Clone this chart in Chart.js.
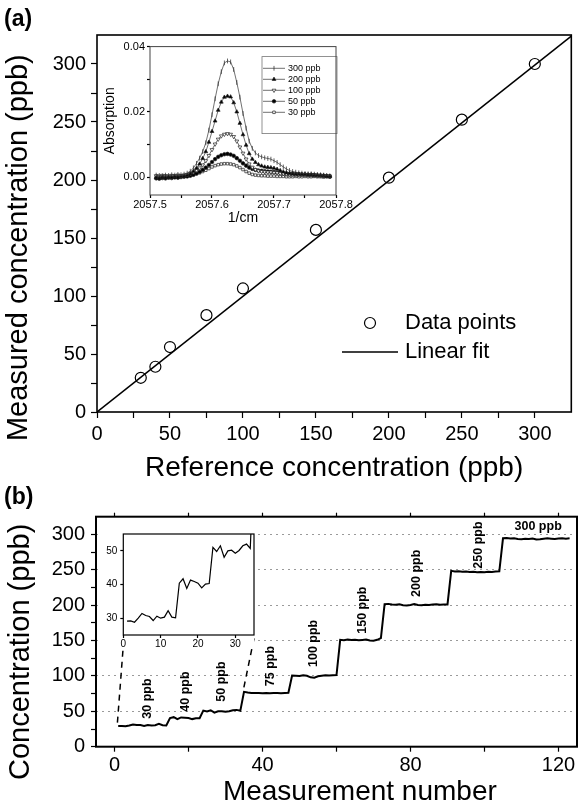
<!DOCTYPE html>
<html>
<head>
<meta charset="utf-8">
<script src="https://cdn.jsdelivr.net/npm/chart.js@4.4.1/dist/chart.umd.min.js"></script>
<style>
  html, body { margin: 0; padding: 0; background: #fff; }
  body { position: relative; width: 578px; height: 806px; overflow: hidden; }
  canvas { position: absolute; }
</style>
</head>
<body>
<canvas id="chartA" width="578" height="482" style="left:0;top:0"></canvas>
<canvas id="insetA" width="260" height="190" style="left:100px;top:38px"></canvas>
<canvas id="chartB" width="578" height="326" style="left:0;top:480px"></canvas>
<canvas id="insetB" width="165" height="130" style="left:98px;top:525px"></canvas>
<script>
// ---- panel (a): calibration ----
const refConc = [30, 40, 50, 75, 100, 150, 200, 250, 300];
const measuredConc = [29.5, 39, 56, 83.5, 106.5, 157, 202, 252, 300];
const fitX = [0, 325];
const fitY = [0, 324];
const tickA = [0, 25, 50, 75, 100, 125, 150, 175, 200, 225, 250, 275, 300];

// ---- panel (a) inset: absorption spectra ----
const waveNumber = [
  2057.510, 2057.515, 2057.520, 2057.525, 2057.530, 2057.535, 2057.540, 2057.545,
  2057.550, 2057.555, 2057.560, 2057.565, 2057.570, 2057.575, 2057.580, 2057.585,
  2057.590, 2057.595, 2057.600, 2057.605, 2057.610, 2057.615, 2057.620, 2057.625,
  2057.630, 2057.635, 2057.640, 2057.645, 2057.650, 2057.655, 2057.660, 2057.665,
  2057.670, 2057.675, 2057.680, 2057.685, 2057.690, 2057.695, 2057.700, 2057.705,
  2057.710, 2057.715, 2057.720, 2057.725, 2057.730, 2057.735, 2057.740, 2057.745,
  2057.750, 2057.755, 2057.760, 2057.765, 2057.770, 2057.775, 2057.780, 2057.785,
  2057.790
];
const abs300 = [
  0.0006, 0.0005, 0.0004, 0.0006, 0.0005, 0.0007, 0.0006, 0.0008,
  0.0007, 0.0009, 0.0012, 0.0018, 0.0028, 0.0042, 0.0058, 0.0078,
  0.0105, 0.0144, 0.0191, 0.0240, 0.0286, 0.0323, 0.0350, 0.0356,
  0.0353, 0.0330, 0.0290, 0.0245, 0.0195, 0.0150, 0.0110, 0.0088,
  0.0074, 0.0066, 0.0062, 0.0059, 0.0057, 0.0055, 0.0050, 0.0045,
  0.0038, 0.0031, 0.0025, 0.0020, 0.0017, 0.0015, 0.0013, 0.0012,
  0.0011, 0.0010, 0.0010, 0.0009, 0.0008, 0.0007, 0.0006, 0.0005,
  0.0004
];
const abs200 = [
  -0.0002, -0.0003, -0.0001, -0.0002, 0.0000, -0.0001, 0.0001, 0.0000,
  0.0002, 0.0003, 0.0005, 0.0010, 0.0017, 0.0027, 0.0040, 0.0057,
  0.0078, 0.0107, 0.0140, 0.0172, 0.0205, 0.0230, 0.0245, 0.0248,
  0.0246, 0.0228, 0.0200, 0.0165, 0.0130, 0.0098, 0.0072, 0.0055,
  0.0045, 0.0038, 0.0034, 0.0031, 0.0030, 0.0029, 0.0027, 0.0024,
  0.0020, 0.0016, 0.0013, 0.0011, 0.0010, 0.0009, 0.0009, 0.0008,
  0.0008, 0.0007, 0.0007, 0.0006, 0.0006, 0.0005, 0.0004, 0.0003,
  0.0002
];
const abs100 = [
  0.0004, 0.0003, 0.0005, 0.0004, 0.0003, 0.0005, 0.0004, 0.0006,
  0.0005, 0.0006, 0.0008, 0.0011, 0.0015, 0.0021, 0.0028, 0.0037,
  0.0050, 0.0066, 0.0084, 0.0101, 0.0116, 0.0126, 0.0131, 0.0133,
  0.0131, 0.0124, 0.0110, 0.0092, 0.0073, 0.0055, 0.0040, 0.0030,
  0.0023, 0.0019, 0.0017, 0.0016, 0.0015, 0.0015, 0.0014, 0.0013,
  0.0011, 0.0010, 0.0009, 0.0008, 0.0008, 0.0008, 0.0007, 0.0007,
  0.0007, 0.0006, 0.0006, 0.0006, 0.0005, 0.0005, 0.0004, 0.0004,
  0.0003
];
const abs50 = [
  -0.0004, -0.0005, -0.0003, -0.0004, -0.0002, -0.0003, -0.0001, -0.0002,
  0.0000, 0.0001, 0.0002, 0.0004, 0.0007, 0.0011, 0.0016, 0.0022,
  0.0029, 0.0037, 0.0046, 0.0055, 0.0062, 0.0067, 0.0070, 0.0071,
  0.0069, 0.0065, 0.0058, 0.0050, 0.0042, 0.0035, 0.0029, 0.0025,
  0.0022, 0.0020, 0.0019, 0.0018, 0.0017, 0.0016, 0.0015, 0.0014,
  0.0013, 0.0012, 0.0011, 0.0010, 0.0010, 0.0009, 0.0009, 0.0008,
  0.0008, 0.0007, 0.0007, 0.0006, 0.0005, 0.0005, 0.0004, 0.0003,
  0.0002
];
const abs30 = [
  0.0002, 0.0001, 0.0003, 0.0002, 0.0001, 0.0002, 0.0001, 0.0003,
  0.0002, 0.0003, 0.0004, 0.0005, 0.0007, 0.0010, 0.0013, 0.0017,
  0.0021, 0.0026, 0.0031, 0.0035, 0.0038, 0.0040, 0.0041, 0.0041,
  0.0040, 0.0038, 0.0034, 0.0029, 0.0023, 0.0017, 0.0012, 0.0008,
  0.0006, 0.0005, 0.0004, 0.0004, 0.0003, 0.0003, 0.0003, 0.0002,
  0.0002, 0.0002, 0.0001, 0.0001, 0.0001, 0.0002, 0.0001, 0.0001,
  0.0002, 0.0001, 0.0001, 0.0002, 0.0001, 0.0001, 0.0000, 0.0001,
  0.0000
];
const tickInsetAX = [2057.5, 2057.55, 2057.6, 2057.65, 2057.7, 2057.75, 2057.8];
const tickInsetAY = [0, 0.01, 0.02, 0.03, 0.04];

// ---- panel (b): stepped concentration record ----
const concentrationSeries = [
  29.1, 29.2, 28.8, 30.0, 31.4, 30.8, 30.5, 29.3, 30.6, 30.0, 30.3, 32.2, 30.3, 30.1,
  40.4, 41.7, 38.8, 41.3, 40.9, 40.4, 39.0, 40.1, 40.3,
  51.0, 49.8, 51.5, 48.1, 50.0, 50.2, 49.3, 50.1, 51.5, 52.0, 50.7,
  77.5, 76.5, 76.0, 75.8, 76.0, 75.7, 75.8, 75.6, 76.0, 75.8, 75.7, 75.9, 76.2,
  100.5, 100.2, 99.8, 101.0, 100.3, 98.0, 97.5, 99.5, 100.4, 100.8, 100.5, 100.9, 101.2,
  151.0, 150.5, 151.5, 150.8, 151.2, 150.4, 150.9, 151.3, 150.1, 149.8, 151.0, 153.5,
  201.5, 201.8, 200.9, 200.5, 201.2, 200.0, 199.5, 200.3, 201.5, 200.2, 199.8, 200.7,
  200.3, 200.9, 201.3, 200.5, 200.8, 201.0,
  248.5, 247.6, 247.8, 247.2, 247.5, 246.8, 247.3, 246.6, 247.0, 246.5, 247.2, 246.9, 247.4, 247.8,
  294.5, 294.8, 294.2, 294.6, 293.6, 293.2, 294.0, 293.5, 294.3, 292.8, 293.1, 293.9,
  294.5, 294.0, 293.5, 294.2, 294.6, 293.9, 294.4
];
const measurementNo = concentrationSeries.map((_, i) => i + 1);
const insetCount = 35; // inset shows the first points (30-50 ppb)
const tickBX = [0, 20, 40, 60, 80, 100, 120];
const tickBY = [0, 25, 50, 75, 100, 125, 150, 175, 200, 225, 250, 275, 300];
const tickInsetBX = [0, 10, 20, 30];
const tickInsetBY = [30, 40, 50];

const stepLabels = ["30 ppb", "40 ppb", "50 ppb", "75 ppb", "100 ppb", "150 ppb", "200 ppb", "250 ppb", "300 ppb"];
const stepLabelX = [8.8, 19.2, 28.8, 42.2, 53.9, 67, 81.5, 98.5, 114.5];
const stepLabelY = [68, 78, 92, 114, 146, 193, 245, 285, 311];
const stepLabelUpright = [true, true, true, true, true, true, true, true, false];

// dashed zoom guides from inset down to the data
const guideLeftX = [2.5, 0.7];
const guideLeftY = [151, 28];
const guideRightX = [37.7, 34.7];
const guideRightY = [153, 77];

const FONT = '"Liberation Sans", Arial, Helvetica, sans-serif';
Chart.defaults.font.family = FONT;
Chart.defaults.color = "#000";
Chart.defaults.animation = false;

function pts(xs, ys) {
  return xs.map((x, i) => ({ x: x, y: ys[i] }));
}

function nearMultiple(v, step) {
  return Math.abs(Math.round(v / step) * step - v) < step * 1e-6;
}

const useTicks = (values) => (s) => {
  s.ticks = values.map((v) => ({ value: v }));
};

// frame around the plot area (and optional white fill behind it)
const framePlugin = {
  id: "frame",
  beforeDraw(chart, args, opts) {
    if (!opts.fill) return;
    const { ctx, chartArea: a } = chart;
    ctx.save();
    ctx.fillStyle = "#fff";
    ctx.fillRect(0, 0, a.right, a.bottom + (opts.fillBelow || 0));
    ctx.restore();
  },
  afterDraw(chart, args, opts) {
    if (!opts.width) return;
    const { ctx, chartArea: a } = chart;
    ctx.save();
    ctx.strokeStyle = opts.color || "#000";
    ctx.lineWidth = opts.width;
    ctx.strokeRect(a.left, a.top, a.right - a.left, a.bottom - a.top);
    ctx.restore();
  },
};

function drawMarker(ctx, ds, x, y) {
  if (!ds.pointRadius) return;
  ctx.fillStyle = ds.pointBackgroundColor || ds.backgroundColor || "#000";
  ctx.strokeStyle = ds.pointBorderColor || ds.borderColor || "#000";
  ctx.lineWidth = ds.pointBorderWidth || 1;
  Chart.helpers.drawPoint(ctx, {
    pointStyle: ds.pointStyle || "circle",
    rotation: ds.pointRotation || 0,
    radius: ds.pointRadius,
    borderWidth: ds.pointBorderWidth || 1,
  }, x, y);
}

// hand-placed key, drawn from the dataset styles
const keyPlugin = {
  id: "key",
  afterDatasetsDraw(chart, args, o) {
    if (!o.rows) return;
    const { ctx, chartArea: a } = chart;
    ctx.save();
    if (o.box) {
      const bx = a.left + o.box.left, by = a.top + o.box.top;
      const bw = a.right + o.box.right - bx, bh = a.top + o.box.bottom - by;
      ctx.fillStyle = "#fff";
      ctx.fillRect(bx, by, bw, bh);
      ctx.strokeStyle = o.box.color;
      ctx.lineWidth = o.box.width;
      ctx.strokeRect(bx, by, bw, bh);
    }
    chart.data.datasets.forEach((ds, i) => {
      const y = a.top + o.top + i * o.rowGap;
      const x0 = a.left + o.left;
      if (ds.showLine !== false) {
        ctx.strokeStyle = ds.borderColor;
        ctx.lineWidth = ds.borderWidth;
        ctx.setLineDash(ds.borderDash || []);
        ctx.beginPath();
        ctx.moveTo(x0, y);
        ctx.lineTo(x0 + o.lineLen, y);
        ctx.stroke();
        ctx.setLineDash([]);
      }
      drawMarker(ctx, ds, x0 + o.lineLen / 2, y);
      ctx.fillStyle = "#000";
      ctx.font = o.fontSize + "px " + FONT;
      ctx.textAlign = "left";
      ctx.textBaseline = "middle";
      ctx.fillText(ds.label, a.left + o.textX, y);
    });
    ctx.restore();
  },
};

// step annotations in data coordinates
const stepTextPlugin = {
  id: "stepText",
  afterDatasetsDraw(chart, args, o) {
    if (!o.text) return;
    const { ctx, scales } = chart;
    ctx.save();
    ctx.fillStyle = "#000";
    ctx.font = o.font;
    ctx.textAlign = "center";
    ctx.textBaseline = "middle";
    o.text.forEach((t, i) => {
      ctx.save();
      ctx.translate(scales.x.getPixelForValue(o.xs[i]), scales.y.getPixelForValue(o.ys[i]));
      if (o.upright[i]) ctx.rotate(-Math.PI / 2);
      ctx.fillText(t, 0, 0);
      ctx.restore();
    });
    ctx.restore();
  },
};

Chart.register(framePlugin, keyPlugin, stepTextPlugin);

const tickGrid = (len) => ({
  drawOnChartArea: false,
  drawTicks: true,
  tickLength: len,
  tickColor: "#000",
  tickWidth: 1.2,
});

// ---------------- (a) main ----------------
new Chart(document.getElementById("chartA"), {
  type: "scatter",
  data: {
    datasets: [
      {
        label: "Data points",
        data: pts(refConc, measuredConc),
        showLine: false,
        pointStyle: "circle",
        pointRadius: 5.5,
        pointBorderWidth: 1.2,
        pointBorderColor: "#000",
        pointBackgroundColor: "rgba(0,0,0,0)",
        borderColor: "#000",
      },
      {
        label: "Linear fit",
        data: pts(fitX, fitY),
        showLine: true,
        borderColor: "#000",
        borderWidth: 1.5,
        pointRadius: 0,
      },
    ],
  },
  options: {
    responsive: false,
    devicePixelRatio: 1,
    layout: { padding: { left: 4, top: 0, right: 1, bottom: 0 } },
    scales: {
      x: {
        type: "linear",
        min: 0,
        max: 325,
        afterFit: (s) => { s.height = 70; },
        afterBuildTicks: useTicks(tickA),
        ticks: {
          autoSkip: false,
          maxRotation: 0,
          padding: 4,
          font: { size: 20 },
          callback: (v) => (v % 50 === 0 ? v : ""),
        },
        grid: tickGrid(6),
        border: { display: false },
        title: {
          display: true,
          text: "Reference concentration (ppb)",
          font: { size: 28, lineHeight: 1 },
          padding: { top: 0, bottom: 0 },
        },
      },
      y: {
        type: "linear",
        min: 0,
        max: 325,
        afterFit: (s) => { s.width = 93; },
        afterBuildTicks: useTicks(tickA),
        ticks: {
          autoSkip: false,
          padding: 5,
          font: { size: 20 },
          callback: (v) => (v % 50 === 0 ? v : ""),
        },
        grid: tickGrid(6),
        border: { display: false },
        title: {
          display: true,
          // trailing spaces push the caption down to where the original sits
          text: "Measured concentration (ppb)      ",
          font: { size: 29, lineHeight: 1 },
          padding: { top: 0, bottom: 0 },
        },
      },
    },
    plugins: {
      legend: { display: false },
      tooltip: { enabled: false },
      title: {
        display: true,
        text: "(a)",
        align: "start",
        font: { size: 23, weight: "bold", lineHeight: 1.2 },
        padding: { top: 6, bottom: 1.4 },
      },
      frame: { width: 1.6 },
      key: { rows: true, left: 245, lineLen: 56, textX: 308, top: 288, rowGap: 29, fontSize: 22 },
    },
  },
});

// ---------------- (a) inset ----------------
const specStyle = (label, ys, style, rot, fill, r) => ({
  label: label,
  data: pts(waveNumber, ys),
  showLine: true,
  borderColor: "#333",
  borderWidth: 0.7,
  pointStyle: style,
  pointRotation: rot,
  pointRadius: r,
  pointBorderWidth: 0.7,
  pointBorderColor: "#222",
  pointBackgroundColor: fill,
});

new Chart(document.getElementById("insetA"), {
  type: "scatter",
  data: {
    datasets: [
      specStyle("300 ppb", abs300, "line", 90, "#222", 2.4),
      specStyle("200 ppb", abs200, "triangle", 0, "#000", 2.2),
      specStyle("100 ppb", abs100, "triangle", 180, "#fff", 2.2),
      specStyle("50 ppb", abs50, "circle", 0, "#000", 1.8),
      specStyle("30 ppb", abs30, "rect", 0, "#fff", 1.8),
    ],
  },
  options: {
    responsive: false,
    devicePixelRatio: 1,
    layout: { padding: { left: 0, top: 7, right: 24, bottom: 0 } },
    scales: {
      x: {
        type: "linear",
        min: 2057.5,
        max: 2057.8,
        afterFit: (s) => { s.height = 33; },
        afterBuildTicks: useTicks(tickInsetAX),
        ticks: {
          autoSkip: false,
          maxRotation: 0,
          padding: 0,
          font: { size: 11 },
          callback: (v) => (nearMultiple(v - 2057.5, 0.1) ? v.toFixed(1) : ""),
        },
        grid: tickGrid(3),
        border: { display: false },
        title: {
          display: true,
          text: "1/cm",
          font: { size: 14, lineHeight: 1 },
          padding: { top: 0, bottom: 3 },
        },
      },
      y: {
        type: "linear",
        min: -0.0055,
        max: 0.04,
        afterFit: (s) => { s.width = 50; },
        afterBuildTicks: useTicks(tickInsetAY),
        ticks: {
          autoSkip: false,
          padding: 2,
          font: { size: 11 },
          callback: (v) => (nearMultiple(v + 1, 0.02) ? v.toFixed(2) : ""),
        },
        grid: tickGrid(3),
        border: { display: false },
        title: {
          display: true,
          text: "Absorption",
          font: { size: 14, lineHeight: 1 },
          padding: { top: 3, bottom: 0 },
        },
      },
    },
    plugins: {
      legend: { display: false },
      tooltip: { enabled: false },
      frame: { width: 1, color: "#444" },
      key: {
        rows: true,
        left: 113,
        lineLen: 22,
        textX: 138,
        top: 21.7,
        rowGap: 11,
        fontSize: 9,
        box: { left: 112, top: 10, right: 1, bottom: 87, color: "#777", width: 0.8 },
      },
    },
  },
});

// ---------------- (b) main ----------------
new Chart(document.getElementById("chartB"), {
  type: "scatter",
  data: {
    datasets: [
      {
        label: "Concentration",
        data: pts(measurementNo, concentrationSeries),
        showLine: true,
        borderColor: "#000",
        borderWidth: 2,
        pointRadius: 0,
      },
      {
        label: "zoom left",
        data: pts(guideLeftX, guideLeftY),
        showLine: true,
        borderColor: "#000",
        borderWidth: 1.5,
        borderDash: [6, 5],
        pointRadius: 0,
      },
      {
        label: "zoom right",
        data: pts(guideRightX, guideRightY),
        showLine: true,
        borderColor: "#000",
        borderWidth: 1.5,
        borderDash: [6, 5],
        pointRadius: 0,
      },
    ],
  },
  options: {
    responsive: false,
    devicePixelRatio: 1,
    layout: { padding: { left: 4, top: 0, right: 1, bottom: 0 } },
    scales: {
      x: {
        type: "linear",
        min: -5,
        max: 125,
        afterFit: (s) => { s.height = 59.3; },
        afterBuildTicks: useTicks(tickBX),
        ticks: {
          autoSkip: false,
          maxRotation: 0,
          padding: 2,
          font: { size: 20 },
          callback: (v) => (v % 40 === 0 ? v : ""),
        },
        grid: tickGrid(5),
        border: { display: false },
        title: {
          display: true,
          // leading spaces shift the caption right, as in the original
          text: "      Measurement number",
          font: { size: 28, lineHeight: 1 },
          padding: { top: 0, bottom: 0 },
        },
      },
      // mirrored tick marks along the top edge
      xTop: {
        type: "linear",
        position: "top",
        min: -5,
        max: 125,
        afterFit: (s) => { s.height = 0; },
        afterBuildTicks: useTicks(tickBX),
        ticks: { display: false },
        grid: tickGrid(4),
        border: { display: false },
      },
      y: {
        type: "linear",
        min: 0,
        max: 325,
        afterFit: (s) => { s.width = 92; },
        afterBuildTicks: useTicks(tickBY),
        ticks: {
          autoSkip: false,
          padding: 6,
          font: { size: 20 },
          callback: (v) => (v % 50 === 0 ? v : ""),
        },
        grid: {
          drawOnChartArea: true,
          drawTicks: true,
          tickLength: 5,
          tickColor: "#000",
          tickWidth: 1.2,
          lineWidth: 1,
          color: (c) =>
            c.tick && c.tick.value % 50 === 0 && c.tick.value > 0 ? "#9a9a9a" : "rgba(0,0,0,0)",
        },
        border: { display: false, dash: [2, 4] },
        title: {
          display: true,
          text: "Concentration (ppb)     ",
          font: { size: 29, lineHeight: 1 },
          padding: { top: 2.5, bottom: 0 },
        },
      },
    },
    plugins: {
      legend: { display: false },
      tooltip: { enabled: false },
      title: {
        display: true,
        text: "(b)",
        align: "start",
        font: { size: 23, weight: "bold", lineHeight: 1.2 },
        padding: { top: 3.7, bottom: 5.4 },
      },
      frame: { width: 2 },
      stepText: {
        text: stepLabels,
        xs: stepLabelX,
        ys: stepLabelY,
        upright: stepLabelUpright,
        font: "bold 12.5px " + FONT,
      },
    },
  },
});

// ---------------- (b) inset ----------------
new Chart(document.getElementById("insetB"), {
  type: "scatter",
  data: {
    datasets: [
      {
        label: "first steps",
        data: pts(measurementNo.slice(0, insetCount), concentrationSeries.slice(0, insetCount)),
        showLine: true,
        borderColor: "#000",
        borderWidth: 1.2,
        pointRadius: 0,
      },
    ],
  },
  options: {
    responsive: false,
    devicePixelRatio: 1,
    layout: { padding: { left: 0, top: 5.7, right: 9, bottom: 0 } },
    scales: {
      x: {
        type: "linear",
        min: 0,
        max: 35,
        afterFit: (s) => { s.height = 20; },
        afterBuildTicks: useTicks(tickInsetBX),
        ticks: { autoSkip: false, maxRotation: 0, padding: 0, font: { size: 10 } },
        grid: tickGrid(3),
        border: { display: false },
      },
      y: {
        type: "linear",
        min: 25,
        max: 55,
        afterFit: (s) => { s.width = 25.3; },
        afterBuildTicks: useTicks(tickInsetBY),
        ticks: { autoSkip: false, padding: 3, font: { size: 10 } },
        grid: tickGrid(3),
        border: { display: false },
      },
    },
    plugins: {
      legend: { display: false },
      tooltip: { enabled: false },
      frame: { width: 1.2, fill: true, fillBelow: 13 },
    },
  },
});
</script>
</body>
</html>
